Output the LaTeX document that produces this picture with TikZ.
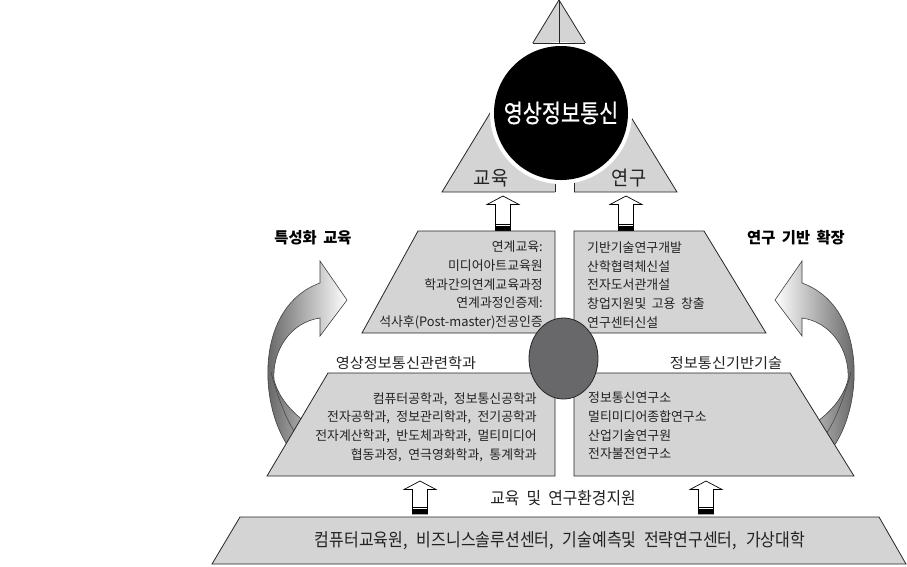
\documentclass[tikz,border=0pt]{standalone}
\usepackage{fontspec}
\newfontfamily\kr[FakeStretch=0.99]{Noto Sans CJK KR}
\newfontfamily\krt[FakeStretch=0.83,FakeBold=0.6]{Noto Sans CJK KR}
\newfontfamily\krm[FakeStretch=0.93]{Noto Sans CJK KR}
\newfontfamily\krb[FakeStretch=0.89]{Noto Sans CJK KR}
\newfontfamily\krl[FakeStretch=1.05]{Noto Sans CJK KR}
\usetikzlibrary{shapes.geometric}
\definecolor{pgray}{RGB}{212,212,212}
\definecolor{egray}{RGB}{104,104,106}
\definecolor{tcol}{RGB}{35,35,35}
\newcommand\cm{,\hspace{0.5em}}
\newcommand\wsp{\hspace{0.42em}}
\newcommand\hollowup[3]{%
  \draw[fill=white, line width=0.7pt, line join=miter]
    (#1,#2) -- (#1+16,#2+8.5) -- (#1+7.5,#2+8.5) -- (#1+7.5,#3) -- (#1-7.5,#3)
    -- (#1-7.5,#2+8.5) -- (#1-16,#2+8.5) -- cycle;
  \fill[black] (#1-7.5,#3-7.2) rectangle (#1+7.5,#3-6);
  \fill[black] (#1-7.5,#3-4.6) rectangle (#1+7.5,#3);
}
\begin{document}
\begin{tikzpicture}[x=1pt,y=-1pt,
  piece/.style={fill=pgray, draw=black!85, line width=0.8pt, line join=miter},
  body/.style={font=\kr\fontsize{13}{18.6}\selectfont, text=tcol, inner sep=0pt},
  lbl/.style={font=\krl\fontsize{14.5}{16}\selectfont, text=tcol, inner sep=0pt},
  big/.style={font=\krm\fontsize{20}{22}\selectfont, text=tcol, inner sep=0pt},
  head/.style={font=\kr\bfseries\fontsize{15.5}{18}\selectfont, text=black, inner sep=0pt},
  band/.style={font=\krb\fontsize{18}{20}\selectfont, text=tcol, inner sep=0pt},
  swoosh/.style={draw=black!75, line width=0.6pt, line join=miter}]
\useasboundingbox (0,0) rectangle (907,566);
\fill[white] (0,0) rectangle (907,566);

% curved arrows (behind the lower layer)
\path[swoosh, left color=black!68, right color=white] (288,446) .. controls (258,402) and (256,306) .. (320,283)
  -- (320,261) -- (347,300) -- (320,336) -- (320,318)
  .. controls (291,322) and (272,350) .. (274,380)
  .. controls (279,398) and (291,411) .. (304,421) -- cycle;
\draw[black!75, line width=0.5pt] (271,372) .. controls (276,392) and (286,420) .. (296,434);
\begin{scope}[shift={(1122,0)}, xscale=-1]
\path[swoosh, left color=white, right color=black!68] (288,446) .. controls (258,402) and (256,306) .. (320,283)
  -- (320,261) -- (347,300) -- (320,336) -- (320,318)
  .. controls (291,322) and (272,350) .. (274,380)
  .. controls (279,398) and (291,411) .. (304,421) -- cycle;
\draw[black!75, line width=0.5pt] (271,372) .. controls (276,392) and (286,420) .. (296,434);
\end{scope}

% top triangle with core circle
\draw[piece] (559,0) -- (677,192) -- (442,192) -- cycle;
\fill[white] (561,113) circle (71pt);
\fill[white] (522,43.4) rectangle (600,80);
\fill[white] (555,113) rectangle (574,195);
\draw[black!85, line width=0.8pt] (532.6,43) -- (585.4,43);
\draw[black!85, line width=0.8pt] (559,0) -- (559,43);
\draw[black!85, line width=0.8pt] (555,183.7) -- (555,192);
\draw[black!85, line width=0.8pt] (574,182.8) -- (574,192);
\node[circle, fill=black, minimum size=134pt, inner sep=0pt] (core) at (561,113) {};
\node[font=\krt\fontsize{25}{27}\selectfont, text=white, inner sep=0pt] (coret) at (561,113) {영상정보통신};
\node[big] (edu) at (491,178) {교육};
\node[big] (res) at (629,178) {연구};

% arrows into top
\hollowup{503}{196}{231}
\hollowup{626}{196}{231}

% middle layer
\draw[piece] (418,231) -- (555,231) -- (555,333) -- (362,333) -- cycle;
\draw[piece] (574,231) -- (704,231) -- (766,333) -- (574,333) -- cycle;
\node[body, align=right, anchor=east] (midl) at (543,285)
  {연계교육:\\미디어아트교육원\\학과간의연계교육과정\\연계과정인증제:\\석사후(Post-master)전공인증};
\node[body, align=left, anchor=west] (midr) at (587,285)
  {기반기술연구개발\\산학협력체신설\\전자도서관개설\\창업지원및\wsp 고용\wsp 창출\\연구센터신설};

% lower layer
\draw[piece] (328,373) -- (555,373) -- (555,476) -- (267,476) -- cycle;
\draw[piece] (574,373) -- (790,373) -- (854,476) -- (574,476) -- cycle;
\node[ellipse, draw=black!85, line width=0.8pt, fill=egray, minimum width=69pt, minimum height=81pt, inner sep=0pt] (hub) at (563.5,358.5) {};
\node[lbl] (ll) at (406,363) {영상정보통신관련학과};
\node[lbl] (lr) at (726,363) {정보통신기반기술};
\node[body, align=right, anchor=east] (lowl) at (537,427)
  {컴퓨터공학과\cm 정보통신공학과\\전자공학과\cm 정보관리학과\cm 전기공학과\\전자계산학과\cm 반도체과학과\cm 멀티미디어\\협동과정\cm 연극영화학과\cm 통계학과};
\node[body, align=left, anchor=west] (lowr) at (588,426)
  {정보통신연구소\\멀티미디어종합연구소\\산업기술연구원\\전자불전연구소};

% side headings
\node[head] (hl) at (313,238) {특성화\wsp 교육};
\node[head] (hr) at (796,238) {연구\wsp 기반\wsp 확장};

% support arrows
\hollowup{420}{481}{514}
\hollowup{706}{481}{514}
\node[font=\krm\fontsize{17}{20}\selectfont, text=tcol, inner sep=0pt] (sup) at (563,498) {교육\wsp 및\wsp 연구환경지원};

% bottom band
\draw[piece] (240,517) -- (879,517) -- (906,564) -- (212,564) -- cycle;
\node[band] (bt) at (560,541) {컴퓨터교육원\cm 비즈니스솔루션센터\cm 기술예측및\wsp 전략연구센터\cm 가상대학};
\end{tikzpicture}
\end{document}
